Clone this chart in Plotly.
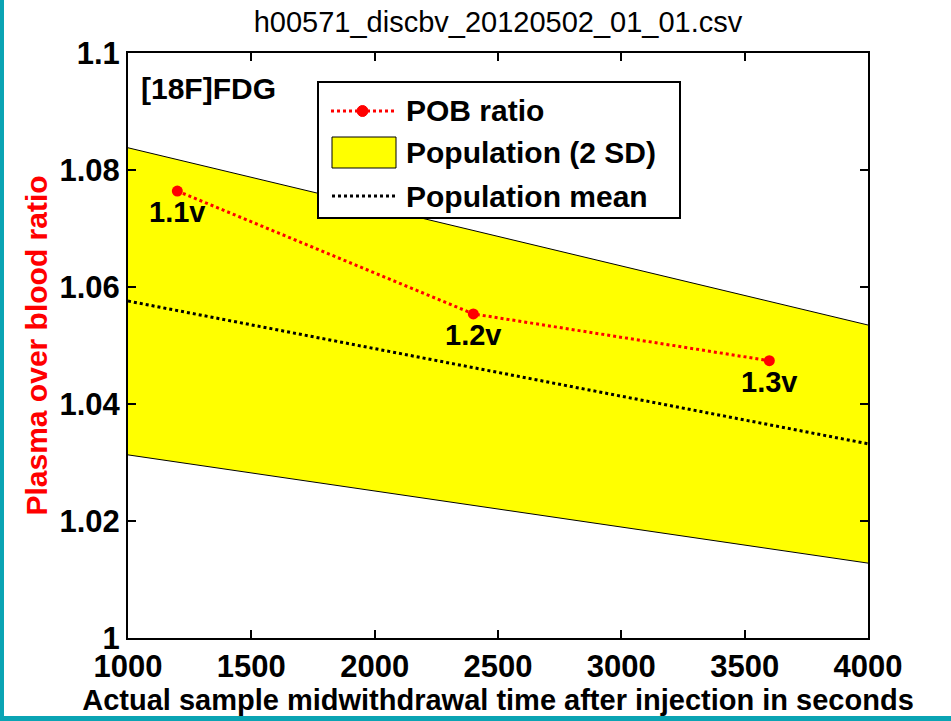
import plotly.graph_objects as go

# ---- data ----
pob_x = [1200, 2400, 3600]
pob_y = [1.0764, 1.0554, 1.0474]
pob_labels = ["1.1v", "1.2v", "1.3v"]

band_x = [1000, 4000]
band_upper = [1.0838, 1.0535]
band_lower = [1.0313, 1.0128]
mean_y = [1.0576, 1.0332]

x_ticks = [1000, 1500, 2000, 2500, 3000, 3500, 4000]
x_ticktext = ["1000", "1500", "2000", "2500", "3000", "3500", "4000"]
y_ticks = [1.0, 1.02, 1.04, 1.06, 1.08, 1.1]
y_ticktext = ["1", "1.02", "1.04", "1.06", "1.08", "1.1"]

legend_names = ["POB ratio", "Population (2 SD)", "Population mean"]

FONT = "Liberation Sans, Arial, sans-serif"
TEAL = "#0aa4b4"
L, R, T, B = 128, 868, 53, 638


def px(x):
    return (x - L) / (R - L)


def py(y):
    return (B - y) / (B - T)


fig = go.Figure()

fig.add_trace(go.Scatter(x=band_x, y=band_upper, mode="lines",
                         line=dict(color="black", width=1),
                         showlegend=False, hoverinfo="skip"))
fig.add_trace(go.Scatter(x=band_x, y=band_lower, mode="lines",
                         line=dict(color="black", width=1),
                         fill="tonexty", fillcolor="#ffff00",
                         name=legend_names[1], showlegend=False))
fig.add_trace(go.Scatter(x=band_x, y=mean_y, mode="lines",
                         line=dict(color="black", width=3, dash="dot"),
                         name=legend_names[2], showlegend=False))
fig.add_trace(go.Scatter(x=pob_x, y=pob_y, mode="lines+markers",
                         line=dict(color="#ff0000", width=3, dash="dot"),
                         marker=dict(color="#ff0000", size=11),
                         name=legend_names[0], showlegend=False))

axis_common = dict(showline=True, linecolor="black", linewidth=2, mirror="ticks",
                   ticks="inside", ticklen=8, tickwidth=2, tickcolor="black",
                   showgrid=False, zeroline=False, automargin=False,
                   tickfont=dict(family=FONT, size=31, color="black", weight="bold"))

# custom legend (box, symbols, texts)
row_y = [111, 153, 196]
shapes = [
    # teal frame strips
    dict(type="rect", xref="paper", yref="paper",
         x0=px(0), x1=px(4), y0=py(721), y1=py(0),
         fillcolor=TEAL, line=dict(width=0), layer="above"),
    dict(type="rect", xref="paper", yref="paper",
         x0=px(0), x1=px(951), y0=py(721), y1=py(716),
         fillcolor=TEAL, line=dict(width=0), layer="above"),
    # legend box
    dict(type="rect", xref="paper", yref="paper",
         x0=px(318), x1=px(680), y0=py(218), y1=py(82),
         fillcolor="white", line=dict(color="black", width=2), layer="above"),
    # POB ratio symbol
    dict(type="line", xref="paper", yref="paper",
         x0=px(331), x1=px(395), y0=py(row_y[0]), y1=py(row_y[0]),
         line=dict(color="#ff0000", width=3, dash="dot"), layer="above"),
    dict(type="circle", xref="paper", yref="paper",
         x0=px(357), x1=px(368), y0=py(row_y[0] + 5.5), y1=py(row_y[0] - 5.5),
         fillcolor="#ff0000", line=dict(color="#ff0000", width=1), layer="above"),
    # population band symbol
    dict(type="rect", xref="paper", yref="paper",
         x0=px(332), x1=px(396), y0=py(row_y[1] + 15), y1=py(row_y[1] - 16),
         fillcolor="#ffff00", line=dict(color="black", width=1), layer="above"),
    # population mean symbol
    dict(type="line", xref="paper", yref="paper",
         x0=px(332), x1=px(396), y0=py(row_y[2]), y1=py(row_y[2]),
         line=dict(color="black", width=3, dash="dot"), layer="above"),
]

annotations = [dict(text="[18F]FDG", xref="paper", yref="paper",
                    x=px(139), y=py(88), xanchor="left", yanchor="middle",
                    showarrow=False,
                    font=dict(family=FONT, size=30, color="black", weight="bold"))]
for name, ry in zip(legend_names, row_y):
    annotations.append(dict(text=name, xref="paper", yref="paper",
                            x=px(404), y=py(ry), xanchor="left", yanchor="middle",
                            showarrow=False,
                            font=dict(family=FONT, size=30, color="black", weight="bold")))
for lx, ly, lt in zip(pob_x, pob_y, pob_labels):
    annotations.append(dict(text=lt, x=lx, y=ly, xref="x", yref="y",
                            xanchor="center", yanchor="middle", yshift=-21,
                            showarrow=False,
                            font=dict(family=FONT, size=29, color="black", weight="bold")))

fig.update_layout(
    width=951, height=721,
    margin=dict(l=L, r=951 - R, t=T, b=721 - B),
    paper_bgcolor="white", plot_bgcolor="white",
    showlegend=False,
    title=dict(text="h00571_discbv_20120502_01_01.csv", x=498/951, xanchor="center",
               y=1 - 22/721, yanchor="middle",
               font=dict(family=FONT, size=29, color="black")),
    xaxis=dict(range=[1000, 4000], tickvals=x_ticks, ticktext=x_ticktext,
               title=dict(text="Actual sample midwithdrawal time after injection in seconds",
                          font=dict(family=FONT, size=29, color="black", weight="bold"),
                          standoff=0),
               **axis_common),
    yaxis=dict(range=[1.0, 1.1], tickvals=y_ticks, ticktext=y_ticktext,
               title=dict(text="Plasma over blood ratio",
                          font=dict(family=FONT, size=30, color="#ff0000", weight="bold"),
                          standoff=3),
               **axis_common),
    annotations=annotations,
    shapes=shapes,
)

fig.write_html("out.html", post_script="document.body.style.margin='0';",
               config={"displayModeBar": False})
